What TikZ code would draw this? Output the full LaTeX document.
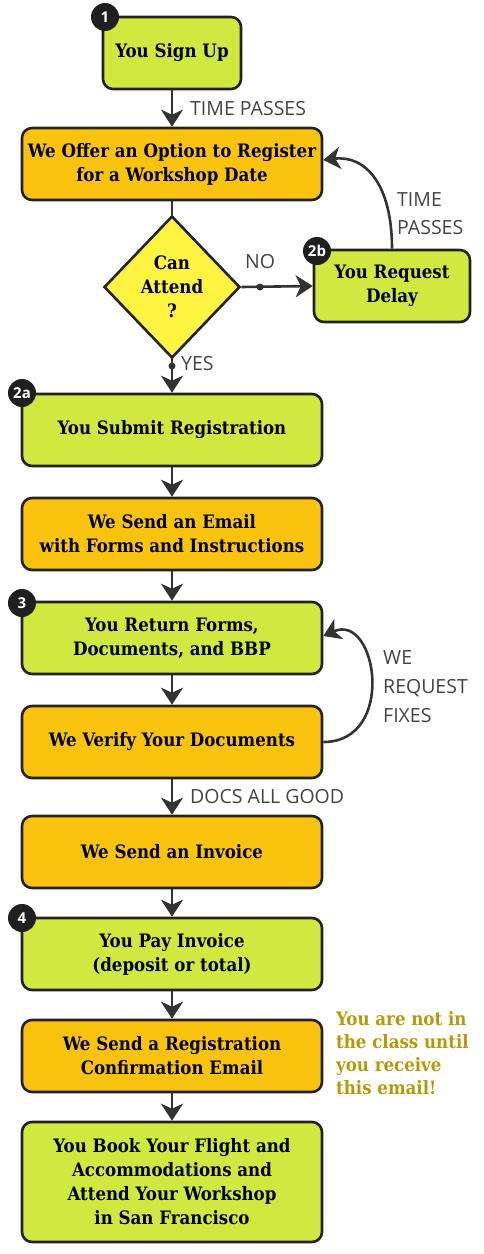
\documentclass[tikz,border=0pt]{standalone}
\usepackage{fontspec}
\setmainfont{DejaVu Serif Condensed}
\newfontfamily\labfont{Open Sans}
\usetikzlibrary{shapes.geometric,arrows.meta}
\definecolor{boxgreen}{HTML}{D0E840}
\definecolor{boxorange}{HTML}{F9C310}
\definecolor{diayellow}{HTML}{FFF442}
\definecolor{edge}{HTML}{222222}
\definecolor{arrowc}{HTML}{333333}
\definecolor{labc}{HTML}{444444}
\definecolor{notec}{HTML}{B8980A}
\tikzset{
  box/.style={draw=edge, line width=2.6pt, rounded corners=10pt, minimum width=300pt,
    minimum height=72pt, align=center, inner sep=2pt,
    font=\bfseries\fontsize{18.5}{24}\selectfont},
  gbox/.style={box, fill=boxgreen},
  obox/.style={box, fill=boxorange},
  badge/.style={circle, fill=black!88, text=white, minimum size=28pt, inner sep=0pt,
    font=\labfont\bfseries\fontsize{15}{15}\selectfont},
  arr/.style={-{Stealth[length=17pt,width=22pt,inset=5pt]}, line width=2.6pt, draw=arrowc},
  plain/.style={line width=2.6pt, draw=arrowc},
  lab/.style={text=labc, font=\labfont\fontsize{19.5}{28}\selectfont, align=left, inner sep=0pt},
  dot/.style={circle, fill=arrowc, minimum size=7pt, inner sep=0pt},
}
\begin{document}
\begin{tikzpicture}[x=1pt,y=-1pt]
\useasboundingbox (0,0) rectangle (484,1254);
% boxes
\node[gbox, minimum width=138pt] (signup) at (172,53) {You Sign Up};
\node[obox] (offer) at (172,164) {We Offer an Option to Register\\for a Workshop Date};
\node[draw=edge, line width=2.6pt, fill=diayellow, shape=diamond, inner sep=0pt,
  minimum width=136pt, minimum height=142pt, align=center,
  font=\bfseries\fontsize{18.5}{24}\selectfont] (attend) at (172,287) {Can\\Attend\\?};
\node[gbox, minimum width=156pt] (delay) at (392,286) {You Request\\Delay};
\node[gbox] (submit) at (172,430) {You Submit Registration};
\node[obox] (email) at (172,534) {We Send an Email\\with Forms and Instructions};
\node[gbox] (return) at (172,638) {You Return Forms,\\Documents, and BBP};
\node[obox] (verify) at (172,742) {We Verify Your Documents};
\node[obox] (invoice) at (172,852) {We Send an Invoice};
\node[gbox] (pay) at (172,954) {You Pay Invoice\\(deposit or total)};
\node[obox] (confirm) at (172,1056) {We Send a Registration\\Confirmation Email};
\node[gbox, minimum height=120pt] (book) at (172,1182) {You Book Your Flight and\\Accommodations and\\Attend Your Workshop\\in San Francisco};
% badges
\node[badge] (b1) at (105,17) {1};
\node[badge] (b2b) at (317,251) {2b};
\node[badge] (b2a) at (22,393) {2a};
\node[badge] (b3) at (22,603) {3};
\node[badge] (b4) at (22,918) {4};
% connectors
\draw[arr] (signup) -- (offer);
\draw[plain] (offer) -- (attend);
\draw[arr] (attend.east) -- (delay.west);
\node[dot] (dno) at (260,287) {};
\draw[arr] (attend.south) -- (submit.north);
\node[dot] (dyes) at (172,366) {};
\draw[arr] (delay.north) .. controls (392,185) and (366,155) .. ([yshift=4pt]offer.east);
\draw[arr] (submit) -- (email);
\draw[arr] (email) -- (return);
\draw[arr] (return) -- (verify);
\draw[arr] (verify.east) .. controls (397,742) and (377,612) .. ([yshift=2pt]return.east);
\draw[arr] (verify) -- (invoice);
\draw[arr] (invoice) -- (pay);
\draw[arr] (pay) -- (confirm);
\draw[arr] (confirm) -- (book);
% labels
\node[lab, anchor=west] (l1) at (190,109) {TIME PASSES};
\node[lab, anchor=west] (l2) at (397,214) {TIME\\PASSES};
\node[lab] (lno) at (260,262) {NO};
\node[lab, anchor=west] (lyes) at (181,364) {YES};
\node[lab, anchor=west, font=\labfont\fontsize{19.5}{29}\selectfont] (lfix) at (383,687) {WE\\REQUEST\\FIXES};
\node[lab, anchor=west] (ldocs) at (190,797) {DOCS ALL GOOD};
\node[anchor=north west, inner sep=0pt, align=left, text=notec,
  font=\bfseries\fontsize{18.5}{23}\selectfont] (note) at (336,1011)
  {You are not in\\the class until\\you receive\\this email!};
\end{tikzpicture}
\end{document}
